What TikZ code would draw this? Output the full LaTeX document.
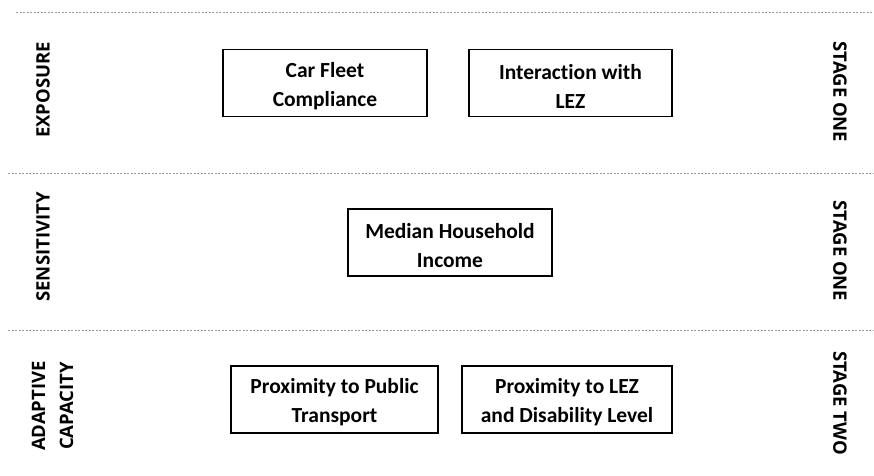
\documentclass[tikz,border=0pt]{standalone}
\usepackage{fontspec}
\setmainfont{Carlito}[RawFeature={-liga;-clig}]
\newfontfamily\sidefont{Open Sans}
\newcommand\boxstrut{\rule{0pt}{21pt}}
\begin{document}
\begin{tikzpicture}[x=1pt,y=-1pt,
  factor/.style={draw, line width=1.3pt, align=center, inner sep=0pt,
    minimum height=67pt, font=\fontsize{21.5}{29}\selectfont\bfseries},
  dimlabel/.style={rotate=90, align=center, font=\sidefont\fontsize{18.5}{28}\selectfont\bfseries},
  stagelabel/.style={rotate=-90, font=\sidefont\fontsize{18.5}{20}\selectfont\bfseries},
  divider/.style={gray!80, line width=0.8pt, dash pattern=on 2pt off 1.5pt}]
\useasboundingbox (0,0) rectangle (874,475);
\draw[divider] (16,12) -- (874,12);
\draw[divider] (8,173) -- (874,173);
\draw[divider] (8,330) -- (874,330);

\node[dimlabel] (exp) at (43,90) {EXPOSURE};
\node[stagelabel] (st1) at (840,92) {STAGE ONE};
\node[factor, minimum width=204pt] (fleet) at (325,83) {\boxstrut Car Fleet\\Compliance};
\node[factor, minimum width=203pt] (lez) at (570.5,83) {\boxstrut Interaction with\\LEZ};

\node[dimlabel] (sens) at (43,247) {SENSITIVITY};
\node[stagelabel] (st2) at (840,251) {STAGE ONE};
\node[factor, minimum width=204pt] (income) at (450,242.5) {\boxstrut Median Household\\Income};

\node[dimlabel] (adap) at (52.5,406) {ADAPTIVE\\CAPACITY};
\node[stagelabel] (st3) at (840,403) {STAGE TWO};
\node[factor, minimum width=207pt] (transport) at (334.5,399.5) {\boxstrut Proximity to Public\\Transport};
\node[factor, minimum width=210pt] (disab) at (567,399.5) {\boxstrut Proximity to LEZ\\and Disability Level};

\end{tikzpicture}
\end{document}
